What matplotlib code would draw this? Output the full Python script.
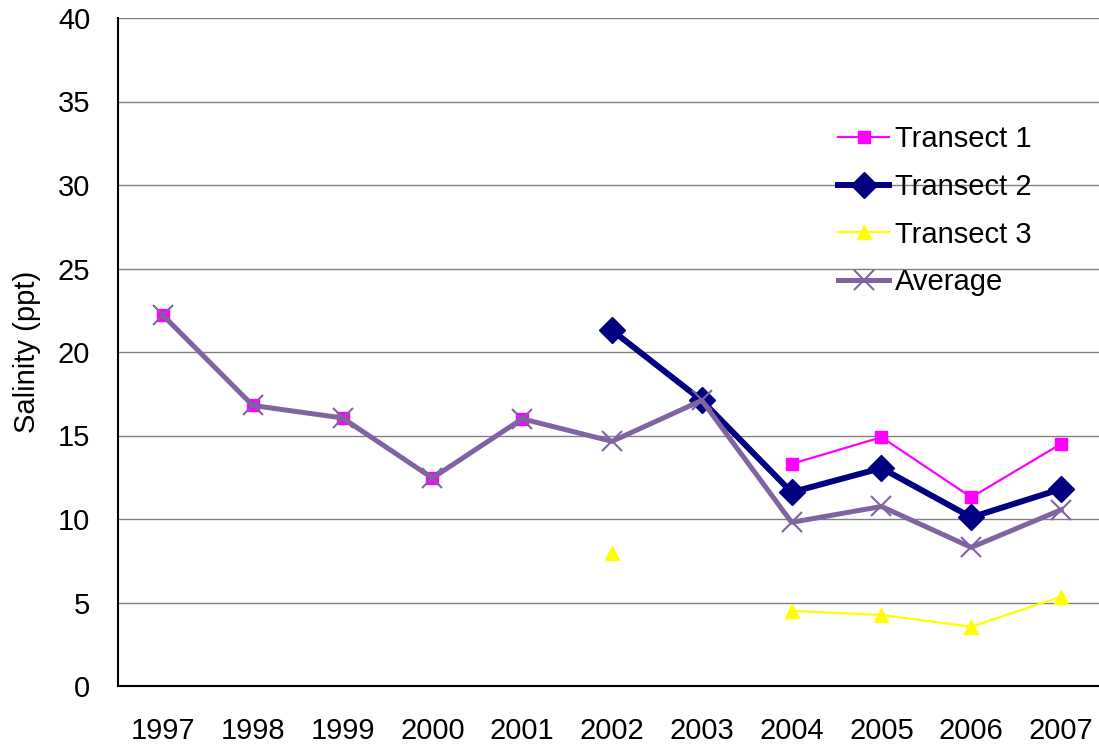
import numpy as np
import matplotlib
matplotlib.use('Agg')
import matplotlib.pyplot as plt

years = ['1997', '1998', '1999', '2000', '2001', '2002', '2003', '2004', '2005', '2006', '2007']
nan = np.nan
transect_1 = [22.2, 16.8, 16.05, 12.45, 16.0, nan, nan, 13.3, 14.9, 11.3, 14.5]
transect_2 = [nan, nan, nan, nan, nan, 21.3, 17.1, 11.6, 13.05, 10.1, 11.8]
transect_3 = [nan, nan, nan, nan, nan, 7.95, nan, 4.5, 4.25, 3.55, 5.35]
average = [22.2, 16.8, 16.05, 12.45, 16.0, 14.65, 17.1, 9.8, 10.75, 8.3, 10.55]

plt.rcParams['font.family'] = ['Liberation Sans', 'DejaVu Sans']

fig = plt.figure(figsize=(10.99, 7.46), dpi=100)
ax = fig.add_axes([118 / 1099, 60 / 746, 988 / 1099, 668 / 746])

x = np.arange(len(years))
ax.plot(x, transect_1, color='#FF00FF', lw=1.6, marker='s', ms=9, mec='#FF00FF', label='Transect 1')
ax.plot(x, transect_2, color='#000080', lw=4.3, marker='D', ms=13, mec='#000080', label='Transect 2')
ax.plot(x, transect_3, color='#FFFF00', lw=1.6, marker='^', ms=10, mec='#FFFF00', label='Transect 3')
ax.plot(x, average, color='#8064A2', lw=3.6, marker='x', ms=14, mew=1.5, label='Average')

ax.set_xlim(-0.5, len(years) - 0.5)
ax.set_ylim(0, 40)
ax.set_yticks(np.arange(0, 41, 5))
ax.set_xticks(x)
ax.set_xticklabels(years)
ax.tick_params(axis='both', length=0, labelsize=21)
ax.tick_params(axis='x', pad=22)
ax.tick_params(axis='y', pad=20)
ax.yaxis.grid(True, color='#808080', lw=1.0)
ax.set_axisbelow(True)
for side in ['top', 'right']:
    ax.spines[side].set_visible(False)
for side in ['left', 'bottom']:
    ax.spines[side].set_linewidth(1.5)
    ax.spines[side].set_color('black')

ax.set_ylabel('Salinity (ppt)', fontsize=21, labelpad=12)

ax.legend(loc='upper left', bbox_to_anchor=(0.729, 0.84), frameon=False, fontsize=21,
          handlelength=1.75, handletextpad=0.2, labelspacing=0.68, borderpad=0,
          borderaxespad=0)

fig.savefig('out.png', dpi=100)
